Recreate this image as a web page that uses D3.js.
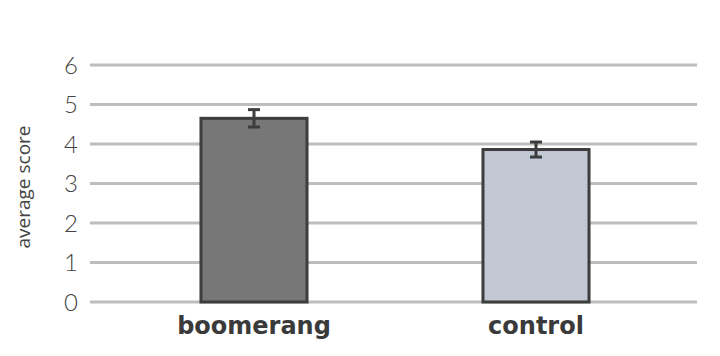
<!DOCTYPE html>
<html><head><meta charset="utf-8">
<script src="https://cdn.jsdelivr.net/npm/d3@7"></script>
<style>body{margin:0;background:#fff}svg{display:block}</style>
</head><body>
<svg id="c" width="720" height="356"></svg>
<script>
const categories = ["boomerang", "control"];
const values = [4.65, 3.86];
const errors = [0.22, 0.19];
const yTicks = [0, 1, 2, 3, 4, 5, 6];
const colors = ["#777777", "#c3c8d5"];

const svg = d3.select("#c");
const y = d3.scaleLinear().domain([0, 6]).range([302, 65]);
const x = d3.scaleBand().domain(categories).range([113, 677]).paddingInner(0.624).paddingOuter(0.312);

svg.append("g").selectAll("line").data(yTicks).join("line")
  .attr("x1", 90).attr("x2", 697)
  .attr("y1", d => y(d)).attr("y2", d => y(d))
  .attr("stroke", "#bdbdbd").attr("stroke-width", 3);

svg.append("g").selectAll("text").data(yTicks).join("text")
  .attr("x", 78).attr("y", d => y(d)).attr("dy", "0.36em")
  .attr("text-anchor", "end")
  .attr("font-family", "Lato, sans-serif").attr("font-weight", 300)
  .attr("font-size", 24).attr("fill", "#444")
  .text(d => d);

svg.append("text")
  .attr("transform", "translate(23,187) rotate(-90)")
  .attr("dy", "0.35em")
  .attr("text-anchor", "middle")
  .attr("font-family", "'Open Sans', sans-serif").attr("font-weight", 400)
  .attr("font-size", 19).attr("fill", "#444")
  .text("average score");

svg.append("g").selectAll("rect").data(categories).join("rect")
  .attr("x", d => x(d)).attr("width", x.bandwidth())
  .attr("y", (d, i) => y(values[i])).attr("height", (d, i) => y(0) - y(values[i]))
  .attr("fill", (d, i) => colors[i])
  .attr("stroke", "#3d3d3d").attr("stroke-width", 3);

const eb = svg.append("g").attr("stroke", "#3d3d3d").attr("stroke-width", 3);
categories.forEach((c, i) => {
  const cx = x(c) + x.bandwidth() / 2;
  const hi = y(values[i] + errors[i]), lo = y(values[i] - errors[i]);
  eb.append("line").attr("x1", cx).attr("x2", cx).attr("y1", hi).attr("y2", lo);
  eb.append("line").attr("x1", cx - 6).attr("x2", cx + 6).attr("y1", hi).attr("y2", hi);
  eb.append("line").attr("x1", cx - 6).attr("x2", cx + 6).attr("y1", lo).attr("y2", lo);
});

svg.append("g").selectAll("text").data(categories).join("text")
  .attr("x", d => x(d) + x.bandwidth() / 2).attr("y", 334)
  .attr("text-anchor", "middle")
  .attr("font-family", "'DejaVu Sans', sans-serif").attr("font-weight", 700)
  .attr("font-size", 24).attr("fill", "#3a3a3a")
  .text(d => d);
</script>
</body></html>
